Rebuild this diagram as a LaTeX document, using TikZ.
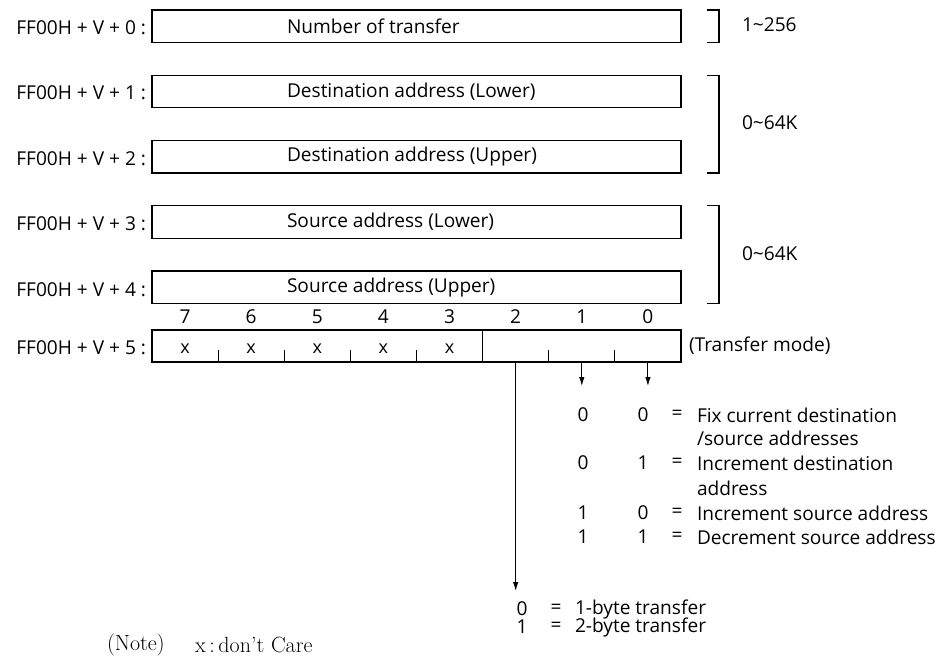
\documentclass[tikz,border=0pt]{standalone}
\usepackage{fontspec}
\setsansfont{Open Sans}
\usetikzlibrary{arrows.meta}
\begin{document}
\begin{tikzpicture}[x=1pt,y=-1pt,
  every node/.style={inner sep=0pt,outer sep=0pt},
  txt/.style={font=\sffamily\fontsize{19.1}{19.1}\selectfont},
  note/.style={font=\rmfamily\fontsize{22}{22}\selectfont},
  frame/.style={draw,line width=1.1pt},
  regbox/.style={frame,minimum width=529pt,minimum height=32.5pt,anchor=north west},
  bitcell/.style={minimum width=66.125pt,minimum height=32pt},
  brk/.style={line width=1.1pt},
  arr/.style={line width=1pt,-{Latex[length=9pt,width=5.5pt]}}
]
\useasboundingbox (0,0) rectangle (940,656);

% register boxes
\node[regbox] (b0) at (152,10) {};
\node[regbox] (b1) at (152,75.25) {};
\node[regbox] (b2) at (152,140.5) {};
\node[regbox] (b3) at (152,205.75) {};
\node[regbox] (b4) at (152,271) {};

\node[txt,anchor=west] (t0) at (b0.west -| 287,0) {Number of transfer};
\node[txt,anchor=west] (t1) at (b1.west -| 287,0) {Destination address (Lower)};
\node[txt,anchor=west] (t2) at (b2.west -| 287,0) {Destination address (Upper)};
\node[txt,anchor=west] (t3) at (b3.west -| 287,0) {Source address (Lower)};
\node[txt,anchor=west] (t4) at (b4.west -| 287,0) {Source address (Upper)};

% address labels
\node[txt,anchor=east] (a0) at (146,28) {FF00H + V + 0 :};
\node[txt,anchor=east] (a1) at (146,93) {FF00H + V + 1 :};
\node[txt,anchor=east] (a2) at (146,158.5) {FF00H + V + 2 :};
\node[txt,anchor=east] (a3) at (146,224) {FF00H + V + 3 :};
\node[txt,anchor=east] (a4) at (146,289.5) {FF00H + V + 4 :};
\node[txt,anchor=east] (a5) at (146,348) {FF00H + V + 5 :};

% brackets
\draw[brk] (707,10) -- (719,10) -- (719,42.5) -- (707,42.5);
\draw[brk] (707,75.25) -- (719,75.25) -- (719,173) -- (707,173);
\draw[brk] (707,205.75) -- (719,205.75) -- (719,303.5) -- (707,303.5);
\node[txt,anchor=west] (r0) at (742,25) {1\textasciitilde 256};
\node[txt,anchor=west] (r1) at (742,123) {0\textasciitilde 64K};
\node[txt,anchor=west] (r2) at (742,254) {0\textasciitilde 64K};

% byte row
\foreach \i in {0,...,7} {
  \node[bitcell] (bit\i) at ({152+66.125*(7-\i)+33.0625},346) {};
  \node[txt] (n\i) at ({152+66.125*(7-\i)+33.0625},317) {\i};
}
\draw[frame] (bit7.north west) rectangle (bit0.south east);
\draw[line width=1pt] (bit3.north east) -- (bit3.south east);
\foreach \i in {7,6,5,4,2,1} {
  \draw[line width=1pt] (bit\i.south east) -- ++(0,-12);
}
\foreach \i in {7,6,5,4,3} {
  \node[txt,font=\sffamily\fontsize{18}{18}\selectfont] (x\i) at ([yshift=-3pt]bit\i.center) {x};
}
\node[txt,anchor=west] (mode) at (689,346) {(Transfer mode)};

% arrows
\coordinate (e1) at ([yshift=-24pt]bit1.south);
\coordinate (e0) at ([yshift=-24pt]bit0.south);
\coordinate (e2) at ([yshift=-229pt]bit2.south);
\draw[arr] (bit1.south) -- (e1);
\draw[arr] (bit0.south) -- (e0);
\draw[arr] (bit2.south) -- (e2);

% table for bits 1,0
\node[txt] (m1a) at (583,415) {0};
\node[txt] (m1b) at (643,415) {0};
\node[txt] (m1c) at (677,415) {=};
\node[txt,anchor=west] (m1d) at (697,415) {Fix current destination};
\node[txt,anchor=west] (m1e) at (697,438.5) {/source addresses};
\node[txt] (m2a) at (583,463) {0};
\node[txt] (m2b) at (643,463) {1};
\node[txt] (m2c) at (677,463) {=};
\node[txt,anchor=west] (m2d) at (697,463) {Increment destination};
\node[txt,anchor=west] (m2e) at (697,488) {address};
\node[txt] (m3a) at (583,513) {1};
\node[txt] (m3b) at (643,513) {0};
\node[txt] (m3c) at (677,513) {=};
\node[txt,anchor=west] (m3d) at (697,513) {Increment source address};
\node[txt] (m4a) at (583,537) {1};
\node[txt] (m4b) at (643,537) {1};
\node[txt] (m4c) at (677,537) {=};
\node[txt,anchor=west] (m4d) at (697,537) {Decrement source address};

% table for bit 2
\node[txt] (s1a) at (522,609) {0};
\node[txt] (s1b) at (556,609) {=};
\node[txt,anchor=west] (s1c) at (575,609) {1-byte transfer};
\node[txt] (s2a) at (522,627) {1};
\node[txt] (s2b) at (556,627) {=};
\node[txt,anchor=west] (s2c) at (575,627) {2-byte transfer};

% note
\node[note,anchor=west] (nt) at (107,645) {(Note)};
\node[note,anchor=west] (nx) at (195,645) {x\,:\,don’t Care};
\end{tikzpicture}
\end{document}
